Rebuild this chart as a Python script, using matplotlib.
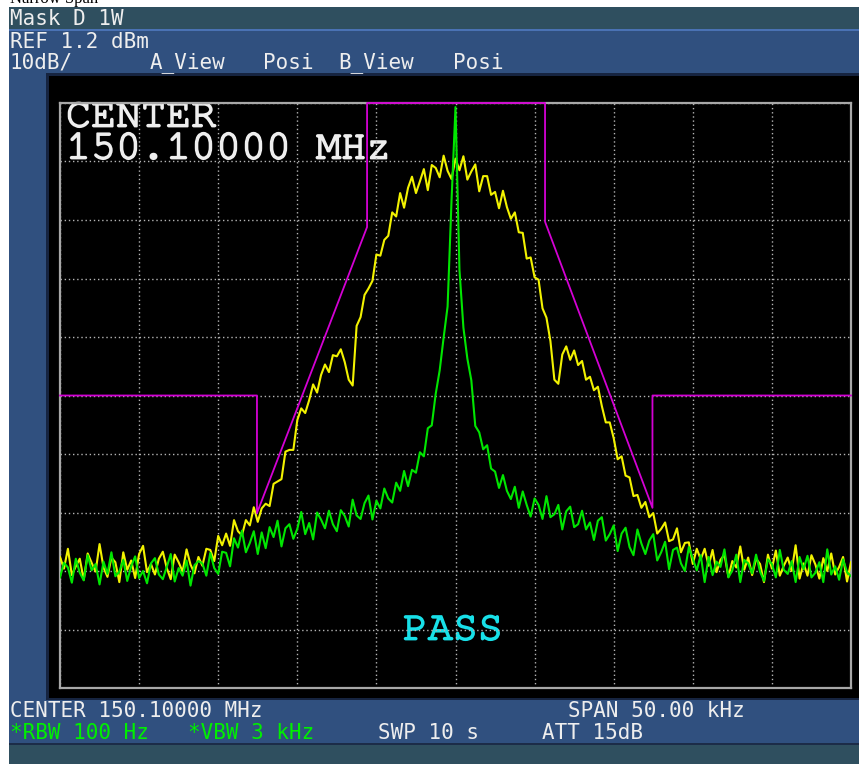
import numpy as np
import matplotlib
matplotlib.use("Agg")
import matplotlib.pyplot as plt
import matplotlib.patheffects as pe
from matplotlib import font_manager
from matplotlib.patches import Rectangle

# sweep: 201 points across a 50 kHz span around the centre frequency
span_khz = 50.0
freq = np.linspace(-span_khz / 2, span_khz / 2, 201)
ref_level = 1.2
db_per_div = 10

# trace A (yellow) - modulated carrier, dBm
trace_a = [
    -76.4, -78.4, -75.0, -79.5, -78.0, -76.7, -80.3, -75.8, -77.4, -78.9,
    -74.2, -78.2, -79.8, -76.5, -77.3, -80.7, -75.6, -78.6, -77.0, -80.0,
    -75.9, -74.5, -79.0, -77.6, -79.4, -76.7, -75.5, -78.3, -80.2, -76.0,
    -77.3, -78.9, -75.1, -77.7, -79.2, -76.4,
    -77.9, -75.0, -75.2, -77.1, -72.8, -74.4, -72.4, -74.5,
    -70.1, -72.0, -72.7, -70.1, -71.0, -67.9, -70.4, -68.1,
    -67.3, -67.7, -63.9, -63.5, -63.1, -58.4, -58.1, -58.1,
    -53.0, -51.0, -51.8, -49.6, -46.9, -48.3, -45.3, -43.5,
    -44.8, -41.9, -42.1, -40.9, -43.1, -46.1, -47.1, -36.9,
    -35.4, -31.6, -30.5, -29.2, -24.7, -24.9, -22.2, -21.5,
    -17.5, -18.2, -14.2, -16.7, -13.3, -11.4, -14.2, -12.2,
    -10.1, -13.7, -9.4, -9.9, -11.5, -7.8, -10.4, -11.8,
    -8.3, -10.3, -7.9, -11.9, -10.5, -9.3, -13.9, -11.3,
    -11.3, -14.5, -14.0, -16.8, -13.8, -16.6, -18.6, -17.5,
    -20.9, -21.0, -25.4, -25.2, -28.6, -29.0, -33.9, -35.5,
    -39.5, -46.1, -46.8, -41.8, -40.4, -42.7, -41.1, -43.6,
    -42.9, -46.1, -45.6, -47.9, -47.3, -50.6, -53.4, -53.4,
    -56.1, -59.7, -59.2, -62.5, -62.8, -66.0, -65.8, -68.0,
    -67.0, -69.6, -68.9, -72.4, -71.6, -70.5, -73.7, -73.4,
    -71.5, -75.6, -74.0, -73.9, -77.6, -75.0, -76.8, -75.0,
    -77.9, -75.2, -79.0, -76.9, -76.0, -79.8, -77.1, -78.2, -74.6, -78.6,
    -76.5, -79.5, -76.7, -77.6, -80.7, -76.0, -78.4, -75.3, -79.6, -77.9,
    -76.5, -78.8, -74.4, -80.1, -77.5, -79.6, -76.1, -77.7, -80.1, -76.6,
    -78.8, -75.8, -79.4, -78.1, -76.4, -80.6, -77.3,
]

# trace B (green) - unmodulated carrier, dBm
trace_b = [
    -79.9, -77.4, -78.2, -80.8, -76.7, -79.1, -80.4, -76.1, -78.7, -77.6,
    -81.1, -77.2, -79.3, -75.6, -79.7, -78.9, -76.9, -80.5, -78.0, -76.3,
    -80.0, -78.8, -80.9, -77.5, -76.6, -79.4, -80.2, -78.1, -75.9, -80.6,
    -78.3, -79.6, -77.0, -81.3, -77.8, -77.1,
    -77.5, -79.6, -75.7, -78.3, -79.3, -75.5, -75.7, -78.0,
    -73.2, -74.8, -71.9, -75.6, -74.0, -72.0, -75.9, -72.2,
    -74.9, -71.3, -73.0, -70.2, -74.6, -71.5, -70.8, -73.3,
    -71.6, -68.7, -72.5, -70.6, -73.4, -68.8, -70.0, -71.5,
    -68.5, -70.8, -72.0, -68.4, -69.4, -71.2, -66.6, -69.3,
    -69.9, -67.2, -65.9, -70.0, -66.8, -68.1, -64.7, -66.4,
    -67.1, -63.7, -65.1, -61.7, -64.3, -61.5, -62.0, -58.5,
    -59.2, -54.4, -53.9, -48.5, -44.5, -38.9, -33.6, -15.4,
    0.5, -27.3, -37.2, -42.5, -46.2, -54.0, -55.1, -58.0,
    -57.3, -61.3, -61.8, -64.6, -62.4, -65.1, -66.5, -64.4,
    -68.0, -65.2, -67.5, -69.5, -66.4, -67.5, -69.9, -66.0,
    -69.6, -69.1, -67.5, -71.7, -68.6, -67.8, -71.3, -70.8,
    -68.5, -71.7, -70.5, -73.5, -70.2, -69.6, -73.6, -72.5,
    -71.0, -75.4, -72.4, -71.4, -74.7, -76.1, -71.7, -74.1,
    -75.9, -73.6, -72.5, -77.0, -75.6, -73.8, -78.5, -75.2,
    -74.8, -77.5, -78.8, -74.7, -76.7, -78.7, -76.1, -80.7,
    -76.4, -79.5, -77.2, -78.1, -75.1, -79.9, -78.7, -76.0, -80.7, -76.9,
    -77.5, -79.2, -76.0, -78.9, -80.5, -76.8, -77.6, -79.9, -75.2, -78.6,
    -79.3, -77.1, -80.7, -76.4, -78.5, -76.2, -79.9, -79.1, -77.3, -80.7,
    -75.1, -79.4, -78.0, -80.3, -76.8, -79.0, -79.7,
]

# emission mask (Mask D) corner points
mask_f = [-25, -12.55, -12.55, -5.59, -5.59, 5.66, 5.66, 12.45, 12.45, 25]
mask_db = [-48.8, -48.8, -68.9, -20.0, 1.2, 1.2, -19.1, -68.0, -48.8, -48.8]


def first_font(names):
    for n in names:
        try:
            font_manager.findfont(n, fallback_to_default=False)
            return n
        except ValueError:
            pass
    return "DejaVu Sans Mono"


courier = first_font(["Courier New", "Nimbus Mono PS", "FreeMono",
                      "Liberation Mono", "DejaVu Sans Mono"])
mono = "DejaVu Sans Mono"

W, H = 859, 764
fig = plt.figure(figsize=(W / 100, H / 100), dpi=100, facecolor="white")

# screen furniture, drawn in pixel units
bg = fig.add_axes([0, 0, 1, 1])
bg.set_xlim(0, W)
bg.set_ylim(H, 0)
bg.axis("off")

bg.add_patch(Rectangle((9, 7), W - 9, 24, color="#2f4f5f", lw=0))
bg.add_patch(Rectangle((9, 30), W - 9, 715, color="#30507f", lw=0))
bg.add_patch(Rectangle((9, 29), W - 9, 2, color="#4a72b4", lw=0))
bg.add_patch(Rectangle((9, 743), W - 9, 2, color="#1c2c48", lw=0))
bg.add_patch(Rectangle((9, 745), W - 9, 19, color="#2f4f5f", lw=0))
bg.add_patch(Rectangle((46, 73), W - 46, 627, color="#162440", lw=0))
bg.add_patch(Rectangle((49, 76), W - 49, 622, color="black", lw=0))

bg.text(10, -1, "Narrow Span", fontsize=12, family="Liberation Serif",
        color="black", va="center", ha="left")

white = "#eeeeee"
lime = "#00f000"
hdr = dict(fontsize=15, family=mono, va="center", ha="left")
bg.text(10, 19, "Mask D 1W", color=white, **hdr)
bg.text(10, 42, "REF 1.2 dBm", color=white, **hdr)
bg.text(10, 63, "10dB/", color=white, **hdr)
bg.text(150, 63, "A_View", color=white, **hdr)
bg.text(263, 63, "Posi", color=white, **hdr)
bg.text(338, 63, "B_View", color=white, **hdr)
bg.text(453, 63, "Posi", color=white, **hdr)

bg.text(10, 711, "CENTER 150.10000 MHz", color=white, **hdr)
bg.text(568, 711, "SPAN 50.00 kHz", color=white, **hdr)
bg.text(10, 733, "*RBW 100 Hz", color=lime, **hdr)
bg.text(188, 733, "*VBW 3 kHz", color=lime, **hdr)
bg.text(378, 733, "SWP 10 s", color=white, **hdr)
bg.text(542, 733, "ATT 15dB", color=white, **hdr)

# graticule and traces
ax = fig.add_axes([60 / W, (H - 688) / H, 791 / W, 585 / H])
ax.set_facecolor("none")
bottom = ref_level - 10 * db_per_div
ax.set_xlim(-span_khz / 2, span_khz / 2)
ax.set_ylim(bottom, ref_level)
ax.set_xticks(np.linspace(-span_khz / 2, span_khz / 2, 11))
ax.set_yticks(np.linspace(bottom, ref_level, 11))
ax.tick_params(length=0, labelbottom=False, labelleft=False)
ax.grid(True, color="#b4b4b4", lw=1.0, ls=(0, (1, 2)))
for s in ax.spines.values():
    s.set_color("#a8a8a8")
    s.set_linewidth(1.6)

ax.plot(freq, trace_a, color="#f2f200", lw=1.5, zorder=3)
ax.plot(freq, trace_b, color="#00e600", lw=1.5, zorder=4)
ax.plot(mask_f, mask_db, color="#d400d4", lw=1.3, zorder=5, clip_on=False)

# thin Courier face, thickened with a same-colour stroke
big = dict(family=courier, fontsize=30, va="center", ha="left",
           path_effects=[pe.withStroke(linewidth=1.3, foreground=white)])
bg.text(66, 118, "CENTER", color=white, **big)
bg.text(66, 150, "150.10000 MHz", color=white, **big)
cyan = "#18e0e8"
bg.text(453, 631, "PASS", color=cyan, family=courier, fontsize=30,
        va="center", ha="center",
        path_effects=[pe.withStroke(linewidth=1.3, foreground=cyan)])

fig.savefig("out.png", dpi=100, facecolor="white")
